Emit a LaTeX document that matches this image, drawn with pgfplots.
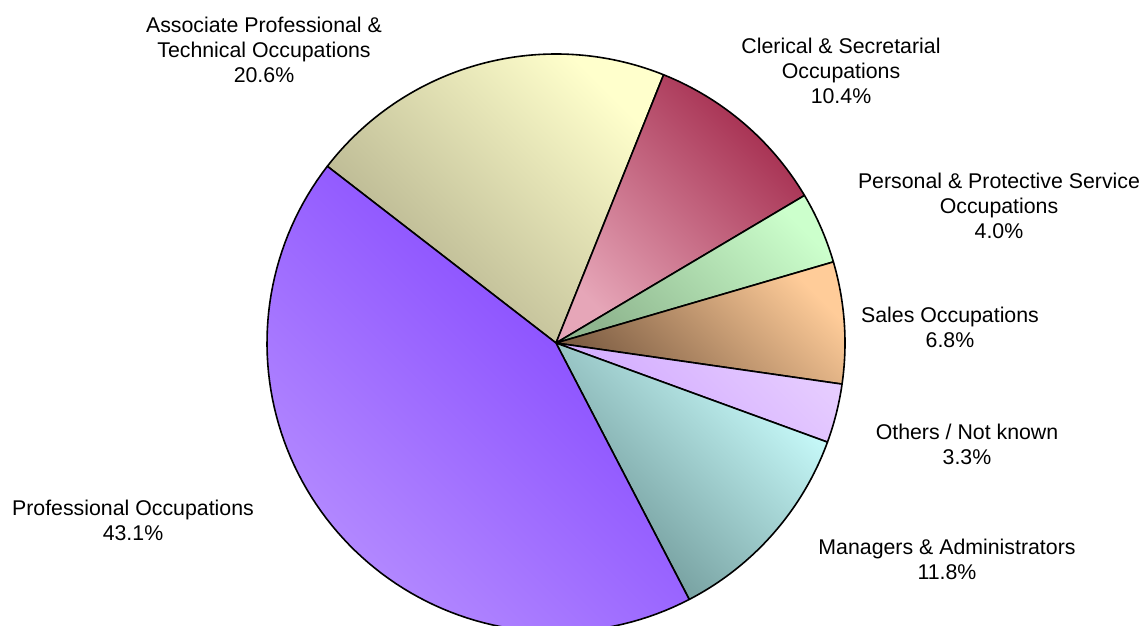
\documentclass[border=0pt]{standalone}
\usepackage{fontspec}
\setmainfont{Liberation Sans}
\usepackage{pgfplots}
\pgfplotsset{compat=1.18}

% pie geometry (pixel units of the reference)
\def\cx{556}\def\cy{283}\def\R{289}
% shares in percent
\def\pA{20.6}% Associate Professional & Technical
\def\pC{10.4}% Clerical & Secretarial
\def\pP{4.0}%  Personal & Protective Service
\def\pS{6.8}%  Sales
\def\pO{3.3}%  Others / Not known
\def\pM{11.8}% Managers & Administrators
\def\pR{43.1}% Professional
\pgfmathsetmacro\aA{142.3}
\pgfmathsetmacro\aC{\aA-3.6*\pA}
\pgfmathsetmacro\aP{\aC-3.6*\pC}
\pgfmathsetmacro\aS{\aP-3.6*\pP}
\pgfmathsetmacro\aO{\aS-3.6*\pS}
\pgfmathsetmacro\aM{\aO-3.6*\pO}
\pgfmathsetmacro\aR{\aM-3.6*\pM}
\pgfmathsetmacro\aE{\aR-3.6*\pR}

\definecolor{profD}{HTML}{7F3FFF}\definecolor{profL}{HTML}{B58CFF}
\definecolor{assoD}{HTML}{B0AD8A}\definecolor{assoL}{HTML}{FFFFCC}
\definecolor{clerD}{HTML}{A32A4C}\definecolor{clerL}{HTML}{E6A6B8}
\definecolor{persD}{HTML}{8FB68F}\definecolor{persL}{HTML}{CCFFCC}
\definecolor{saleD}{HTML}{7E5E44}\definecolor{saleL}{HTML}{FFCC99}
\definecolor{othD}{HTML}{CFA6FF}\definecolor{othL}{HTML}{E6CCFF}
\definecolor{manD}{HTML}{6A9292}\definecolor{manL}{HTML}{CCFFFF}

\newcommand\pieslice[4]{%
  \addplot[draw=black, line width=1.6bp, line join=round, domain=#1:#2, samples=90,
    top color=#3, bottom color=#4, shading angle=-45]
    ({\cx+\R*cos(x)},{\cy+\R*sin(x)}) -- (axis cs:\cx,\cy) -- cycle;}

\begin{document}
\begin{tikzpicture}
\begin{axis}[
  width=1141bp, height=626bp, scale only axis,
  xmin=0, xmax=1141, ymin=0, ymax=626,
  hide axis, clip=true,
]
\pieslice{\aC}{\aA}{assoL}{assoD}
\pieslice{\aP}{\aC}{clerD}{clerL}
\pieslice{\aS}{\aP}{persL}{persD}
\pieslice{\aO}{\aS}{saleL}{saleD}
\pieslice{\aM}{\aO}{othL}{othD}
\pieslice{\aR}{\aM}{manL}{manD}
\pieslice{\aE}{\aR}{profD}{profL}
\draw[draw=none] (axis cs:0,0) rectangle (axis cs:1141,626);
\begin{scope}[every node/.style={align=center, inner sep=0pt, font=\fontsize{21.4}{25.2}\selectfont}]
\node at (axis cs:264,576) {Associate Professional \&\\Technical Occupations\\20.6\%};
\node at (axis cs:841,555) {Clerical \& Secretarial\\Occupations\\10.4\%};
\node at (axis cs:999,420) {Personal \& Protective Service\\Occupations\\4.0\%};
\node at (axis cs:950,299) {Sales Occupations\\6.8\%};
\node at (axis cs:967,182) {Others / Not known\\3.3\%};
\node at (axis cs:947,67) {Managers \& Administrators\\11.8\%};
\node at (axis cs:133,106) {Professional Occupations\\43.1\%};
\end{scope}
\end{axis}
\end{tikzpicture}
\end{document}
